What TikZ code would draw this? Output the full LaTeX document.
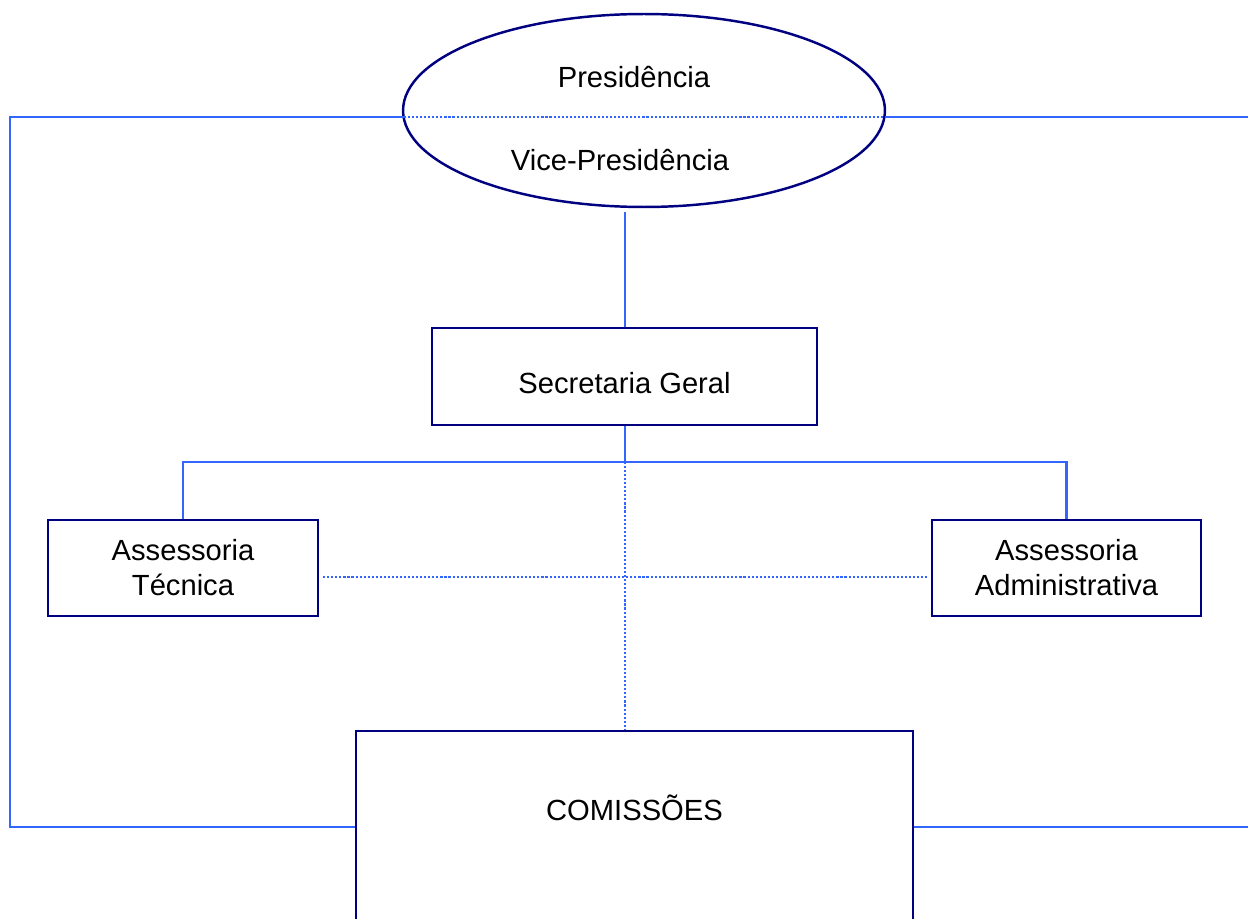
\documentclass[tikz,border=0pt]{standalone}
\usepackage{fontspec}
\setmainfont{Liberation Sans}
\usepackage{tikz}
\usetikzlibrary{calc}
\usetikzlibrary{shapes.geometric}
\definecolor{qqqqbb}{rgb}{0.,0.,0.5}
\definecolor{zzttff}{rgb}{0.2,0.4,1.}
\tikzset{every node/.style={font=\fontsize{16.6}{20}\selectfont}}
\tikzset{caixa/.style={draw=qqqqbb,line width=1.4pt,rectangle,inner sep=0pt,align=center},
  elipse/.style={draw=qqqqbb,line width=1.4pt,ellipse,inner sep=0pt,minimum width=9.64cm,minimum height=3.86cm},
  ligacao/.style={draw=zzttff,line width=1.4pt},
  pontilhado/.style={draw=zzttff,line width=1.4pt,dash pattern=on 1.2pt off 1.1pt}}

\begin{document}
\begin{tikzpicture}[line cap=butt,line join=miter,x=0.02cm,y=-0.02cm]
        \useasboundingbox (0,0) rectangle (1248,919);
        \clip (0,0) rectangle (1248,919);
        % orgaos
        \node[elipse] (presid) at (644,110.5) {};
        \node[anchor=base] (pres) at (634,88) {Presidência};
        \node[anchor=base] (vice) at (620,171) {Vice-Presidência};
        \node[caixa,anchor=north,minimum width=7.7cm,text height=1.3cm,text depth=0.64cm] (secretaria) at (624.5,327) {Secretaria Geral};
        \node[caixa,minimum width=5.4cm,minimum height=1.92cm] (tecnica) at (183,568) {Assessoria\\Técnica};
        \node[caixa,minimum width=5.38cm,minimum height=1.92cm] (admin) at (1066.5,568) {Assessoria\\Administrativa};
        \node[caixa,anchor=north,minimum width=11.14cm,text height=1.78cm,text depth=2.9cm] (comissoes) at (634.5,730) {COMISSÕES};
        % pontos auxiliares
        \coordinate (eL) at (404,117);
        \coordinate (eR) at (885,117);
        \coordinate (fL) at (10,117);
        \coordinate (fR) at (1256,117);
        \coordinate (eB) at (625,212);
        \coordinate (jn) at (625,462);
        % ligacoes
        \draw[pontilhado] (eL) -- (eR);
        \draw[ligacao] (eL) -- (fL) |- (comissoes.west |- 0,827);
        \draw[ligacao] (eR) -- (fR) |- (comissoes.east |- 0,827);
        \draw[ligacao] (eB) -- (secretaria.north -| eB);
        \draw[ligacao] (secretaria.south -| jn) -- (jn);
        \draw[ligacao] (tecnica.north) |- (jn) -| (admin.north);
        \draw[pontilhado] (jn) -- (comissoes.north -| jn);
        \draw[pontilhado] ($(tecnica.east)+(4,9)$) -- ($(admin.west)+(-4,9)$);
\end{tikzpicture}
\end{document}
